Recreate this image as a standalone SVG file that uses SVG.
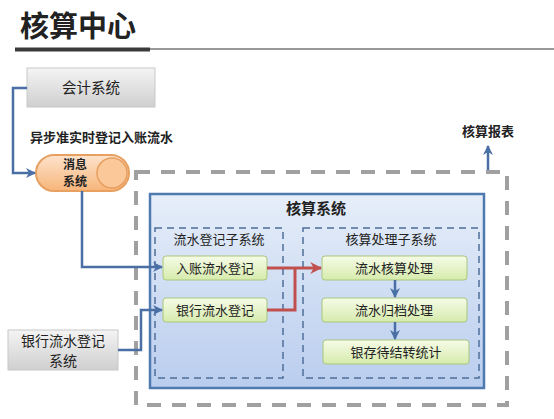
<svg xmlns="http://www.w3.org/2000/svg" width="554" height="419" viewBox="0 0 554 419">
<defs>
<linearGradient id="gGray" x1="0" y1="0" x2="0" y2="1"><stop offset="0" stop-color="#f4f4f4"/><stop offset="1" stop-color="#cfcfcf"/></linearGradient>
<linearGradient id="gGreen" x1="0" y1="0" x2="0" y2="1"><stop offset="0" stop-color="#f6fbe8"/><stop offset="1" stop-color="#d6ebac"/></linearGradient>
<linearGradient id="gBlue" x1="0" y1="0" x2="0" y2="1"><stop offset="0" stop-color="#e6eef9"/><stop offset="1" stop-color="#b9cdee"/></linearGradient>
<linearGradient id="gOrange" x1="0" y1="0" x2="0" y2="1"><stop offset="0" stop-color="#fde3cc"/><stop offset="1" stop-color="#f7b57a"/></linearGradient>
<marker id="aBlue" viewBox="0 0 10 10" refX="9" refY="5" markerWidth="4" markerHeight="4" orient="auto"><path d="M0,0 L10,5 L0,10 L3,5 z" fill="#4a6fa5"/></marker>
<marker id="aRed" viewBox="0 0 10 10" refX="9" refY="5" markerWidth="4" markerHeight="4" orient="auto"><path d="M0,0 L10,5 L0,10 L3,5 z" fill="#c0504d"/></marker>
</defs>
<style>
text{font-family:"Noto Sans CJK SC","Noto Sans",sans-serif;fill:#222;font-size:13px;}
.t{text-anchor:middle;}
.b{font-weight:bold;}
.green{fill:url(#gGreen);stroke:#a9c77a;stroke-width:1;}
.gray{fill:url(#gGray);stroke:#c8c8c8;stroke-width:1;}
.sub{fill:none;stroke:#4f6f9a;stroke-width:1.5;stroke-dasharray:7 5;}
.blue{fill:none;stroke:#4a6fa5;stroke-width:2.5;}
.red{fill:none;stroke:#c0504d;stroke-width:3;}
</style>
<rect width="554" height="419" fill="#ffffff"/>
<g id="title">
<text x="20" y="37" style="font-size:29px" class="b">核算中心</text>
<line x1="150" y1="49" x2="554" y2="49" stroke="#333" stroke-width="1"/>
<line x1="15" y1="49.5" x2="150" y2="49.5" stroke="#3a3a3a" stroke-width="4"/>
</g>
<g id="outer">
<rect x="136" y="172" width="371" height="233" fill="none" stroke="#a0a0a0" stroke-width="4" stroke-dasharray="14 11"/>
</g>
<g id="accounting-system">
<rect x="150" y="194" width="334" height="194" fill="url(#gBlue)" stroke="#4f7ab0" stroke-width="2.5"/>
<text x="316" y="214" class="t b" style="font-size:15px">核算系统</text>
</g>
<g id="reg-sub">
<rect x="155" y="228" width="128" height="150" class="sub"/>
<text x="219" y="244" class="t">流水登记子系统</text>
</g>
<g id="proc-sub">
<rect x="303" y="228" width="176" height="150" class="sub"/>
<text x="391" y="244" class="t">核算处理子系统</text>
</g>
<g id="kuaiji">
<rect x="27" y="68" width="128" height="39" class="gray"/>
<text x="91" y="93" class="t" style="font-size:14.5px">会计系统</text>
</g>
<g id="label-async">
<text x="30" y="142" class="b">异步准实时登记入账流水</text>
</g>
<g id="msg">
<rect x="36" y="155" width="93" height="36" rx="18" fill="url(#gOrange)" stroke="#e8a060" stroke-width="2"/>
<circle cx="112" cy="173" r="15" fill="#fbc89a" stroke="#e8a060" stroke-width="1.5"/>
<text class="t b" style="font-size:12px"><tspan x="75" y="168.5">消息</tspan><tspan x="75" y="186">系统</tspan></text>
</g>
<g id="bank-sys">
<rect x="8" y="330" width="110" height="40" class="gray"/>
<text class="t" style="font-size:14px"><tspan x="63" y="346">银行流水登记</tspan><tspan x="63" y="366">系统</tspan></text>
</g>
<g id="report">
<text x="488" y="136" class="t b">核算报表</text>
</g>
<g id="n1"><rect x="163" y="256" width="104" height="24" rx="3" class="green"/><text x="215" y="273" class="t">入账流水登记</text></g>
<g id="n2"><rect x="163" y="298" width="104" height="24" rx="3" class="green"/><text x="215" y="315" class="t">银行流水登记</text></g>
<g id="n3"><rect x="322" y="256" width="145" height="24" rx="3" class="green"/><text x="394" y="273" class="t">流水核算处理</text></g>
<g id="n4"><rect x="322" y="298" width="145" height="24" rx="3" class="green"/><text x="394" y="315" class="t">流水归档处理</text></g>
<g id="n5"><rect x="323" y="340" width="146" height="24" rx="3" class="green"/><text x="396" y="357" class="t">银存待结转统计</text></g>
<g id="connectors">
<polyline points="27,88 13,88 13,173 35,173" class="blue" marker-end="url(#aBlue)"/>
<polyline points="82,191 82,267 162,267" class="blue" marker-end="url(#aBlue)"/>
<polyline points="118,350 141,350 141,310 162,310" class="blue" marker-end="url(#aBlue)"/>
<line x1="488" y1="170" x2="488" y2="146" class="blue" marker-end="url(#aBlue)"/>
<line x1="395" y1="280" x2="395" y2="297" class="blue" marker-end="url(#aBlue)"/>
<line x1="395" y1="322" x2="395" y2="339" class="blue" marker-end="url(#aBlue)"/>
<line x1="267" y1="268" x2="321" y2="268" class="red" marker-end="url(#aRed)"/>
<polyline points="267,310 295,310 295,268" class="red"/>
</g>
</svg>
